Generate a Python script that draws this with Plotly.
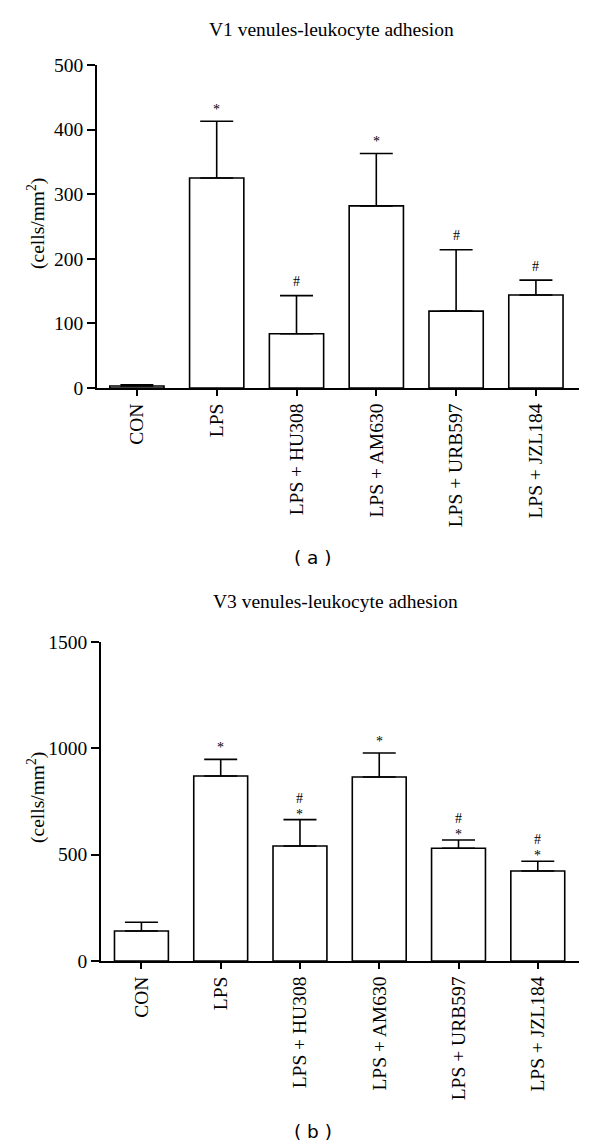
import plotly.graph_objects as go

categories = ["CON", "LPS", "LPS + HU308", "LPS + AM630", "LPS + URB597", "LPS + JZL184"]

v1_mean = [3, 325, 84, 282, 119, 144]
v1_err = [2, 88, 59, 81, 95, 23]
v1_sig = ["", "*", "#", "*", "#", "#"]

v3_mean = [141, 870, 541, 865, 530, 423]
v3_err = [41, 78, 124, 113, 39, 46]
v3_star = ["", "*", "*", "*", "*", "*"]
v3_hash = ["", "", "#", "", "#", "#"]

v1_ticks = [0, 100, 200, 300, 400, 500]
v3_ticks = [0, 500, 1000, 1500]

# page body has an 8px default margin
OFF = 8
W, H = 600 - 2 * OFF, 1145 - OFF
SERIF = "Liberation Serif"
SANS = "DejaVu Sans"

fig = go.Figure()

def add_bars(mean, err, xa, ya):
    fig.add_trace(go.Bar(
        x=categories, y=mean, xaxis=xa, yaxis=ya,
        marker=dict(color="white", line=dict(color="black", width=1.6)),
        error_y=dict(type="data", symmetric=False, array=err,
                     arrayminus=[0] * len(err), color="black",
                     thickness=1.6, width=16.5),
        showlegend=False, hoverinfo="skip",
    ))

add_bars(v1_mean, v1_err, "x", "y")
add_bars(v3_mean, v3_err, "x2", "y2")

axis_common = dict(showgrid=False, zeroline=False, showline=True, linecolor="black",
                   linewidth=1.6, ticks="outside", tickcolor="black", tickwidth=1.6,
                   automargin=False,
                   tickfont=dict(family=SERIF, size=19.5, color="black"))

def px_x(p):
    return (p - OFF) / W

def px_y(p):
    return 1 - (p - OFF) / H

fig.update_layout(
    template="none",
    width=W, height=H, margin=dict(l=0, r=0, t=0, b=0, autoexpand=False),
    paper_bgcolor="white", plot_bgcolor="white", bargap=0.32,
    xaxis=dict(domain=[px_x(97), px_x(579)], anchor="y", range=[-0.5, 5.54],
               tickangle=-90, ticklen=6, **axis_common),
    yaxis=dict(domain=[px_y(388), px_y(65)], anchor="x", range=[0, 500],
               tickvals=v1_ticks, ticklen=8, **axis_common),
    xaxis2=dict(domain=[px_x(101), px_x(579)], anchor="y2", range=[-0.51, 5.52],
                tickangle=-90, ticklen=6, **axis_common),
    yaxis2=dict(domain=[px_y(961), px_y(642)], anchor="x2", range=[0, 1500],
                tickvals=v3_ticks, ticklen=8, **axis_common),
)

def txt(text, x, y, family, size, **kw):
    d = dict(text=text, xref="paper", yref="paper", x=px_x(x), y=px_y(y),
             xanchor="center", yanchor="middle", showarrow=False,
             font=dict(family=family, size=size, color="black"))
    d.update(kw)
    return d

ann = [
    txt("V1 venules-leukocyte adhesion", 331, 29, SERIF, 19.5),
    txt("V3 venules-leukocyte adhesion", 335, 601, SERIF, 19.5),
    txt("(cells/mm<sup>2</sup>)", 36, 224, SERIF, 19.5, textangle=-90),
    txt("(cells/mm<sup>2</sup>)", 36, 798, SERIF, 19.5, textangle=-90),
    txt("( a )", 313, 557, SANS, 18.5),
    txt("( b )", 313, 1131, SANS, 18.5),
]

def mark(text, xa, ya, c, yv, shift):
    return dict(text=text, xref=xa, yref=ya, x=c, y=yv, xanchor="center",
                yanchor="middle", yshift=shift, showarrow=False,
                font=dict(family=SERIF, size=14, color="black"))

for c, m, e, s in zip(categories, v1_mean, v1_err, v1_sig):
    if s:
        ann.append(mark(s, "x", "y", c, m + e, 12 if s == "*" else 14))
for c, m, e, st, hs in zip(categories, v3_mean, v3_err, v3_star, v3_hash):
    if hs:
        ann.append(mark(st, "x2", "y2", c, m + e, 5.5))
        ann.append(mark(hs, "x2", "y2", c, m + e, 21.5))
    elif st:
        ann.append(mark(st, "x2", "y2", c, m + e, 12))

fig.update_layout(annotations=ann)
fig.write_html("out.html")
